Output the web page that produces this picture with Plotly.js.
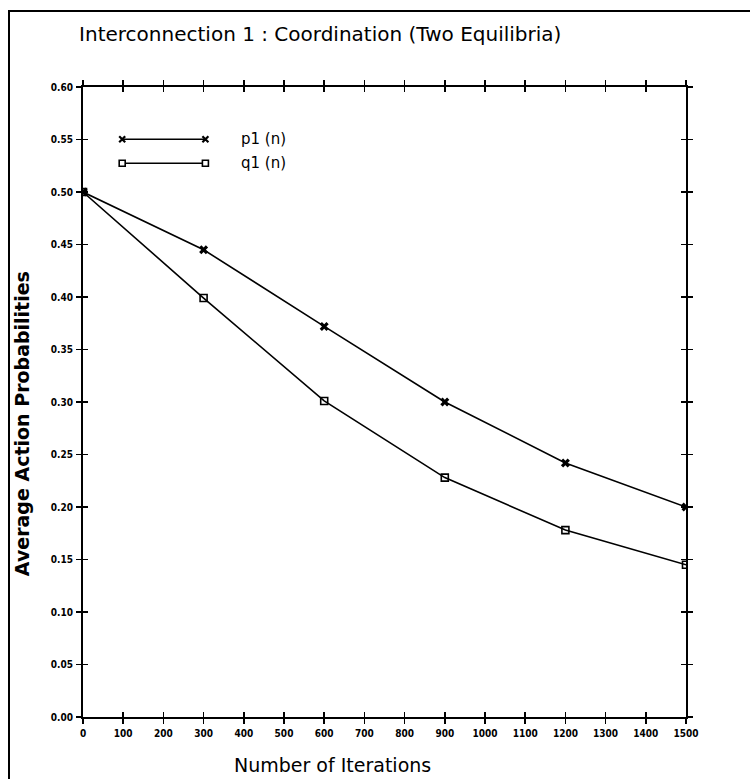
<!DOCTYPE html>
<html>
<head>
<meta charset="utf-8">
<script src="https://cdn.plot.ly/plotly-3.0.1.min.js"></script>
<style>
  html, body { margin: 0; padding: 0; background: #fff; overflow: hidden; }
  #wrap { position: relative; width: 750px; height: 779px; overflow: hidden; }
  #frameL { position: absolute; left: 8px; top: 10px; width: 2px; height: 769px; background: #000; pointer-events: none; }
  #frameT { position: absolute; left: 8px; top: 10px; width: 742px; height: 2px; background: #000; pointer-events: none; }
  #chart { width: 750px; height: 779px; }
</style>
</head>
<body>
<div id="wrap">
  <div id="chart"></div>
  <div id="frameL"></div>
  <div id="frameT"></div>
</div>
<script>
// ---- data ----
const iterations = [0, 300, 600, 900, 1200, 1500];
const p1 = [0.50, 0.445, 0.372, 0.300, 0.242, 0.200];
const q1 = [0.50, 0.399, 0.301, 0.228, 0.178, 0.145];
const seriesNames = ['p1 (n)', 'q1 (n)'];
const xTickVals = [0,100,200,300,400,500,600,700,800,900,1000,1100,1200,1300,1400,1500];
const yTickVals = [0,0.05,0.10,0.15,0.20,0.25,0.30,0.35,0.40,0.45,0.50,0.55,0.60];

const labelFont = {family: 'DejaVu Sans Condensed, DejaVu Sans', size: 10, color: '#000', weight: 'bold'};

const traces = [
  {x: iterations, y: p1, name: seriesNames[0], mode: 'lines+markers', type: 'scatter',
   line: {color: '#000', width: 1.6}, marker: {symbol: 'x', size: 8, color: '#000'}, showlegend: false},
  {x: iterations, y: q1, name: seriesNames[1], mode: 'lines+markers', type: 'scatter',
   line: {color: '#000', width: 1.6}, marker: {symbol: 'square-open', size: 7, color: '#000', line: {width: 1.6}}, showlegend: false},
  // invisible trace to activate the overlay axes that carry the inner half of each tick
  {x: iterations, y: q1, xaxis: 'x2', yaxis: 'y2', mode: 'lines', line: {width: 0}, opacity: 0,
   hoverinfo: 'skip', showlegend: false}
];

// legend drawn as layout decoration
const lx0 = 0.065, lx1 = 0.203, ly1 = 0.917, ly2 = 0.879, ltx = 0.258;
function xMark(xp, yp) {
  return {type: 'path', xref: 'paper', yref: 'paper', xsizemode: 'pixel', ysizemode: 'pixel',
    xanchor: xp, yanchor: yp, path: 'M-3,-3L3,3M-3,3L3,-3', line: {color: '#000', width: 2.2}};
}
function sqMark(xp, yp) {
  return {type: 'rect', xref: 'paper', yref: 'paper', xsizemode: 'pixel', ysizemode: 'pixel',
    xanchor: xp, yanchor: yp, x0: -3, x1: 3, y0: -3, y1: 3, line: {color: '#000', width: 1.6}, fillcolor: '#fff'};
}
const shapes = [
  {type: 'line', xref: 'paper', yref: 'paper', x0: lx0, x1: lx1, y0: ly1, y1: ly1, line: {color: '#000', width: 1.6}},
  {type: 'line', xref: 'paper', yref: 'paper', x0: lx0, x1: lx1, y0: ly2, y1: ly2, line: {color: '#000', width: 1.6}},
  xMark(lx0, ly1), xMark(lx1, ly1), sqMark(lx0, ly2), sqMark(lx1, ly2)
];

const layout = {
  width: 750, height: 779,
  margin: {l: 83, r: 64, t: 87, b: 62},
  paper_bgcolor: '#fff', plot_bgcolor: '#fff',
  showlegend: false,
  title: {text: 'Interconnection 1 : Coordination (Two Equilibria)', font: {family: 'DejaVu Sans', size: 20, color: '#000'},
          x: 0.427, xanchor: 'center', xref: 'container', y: 0.956, yanchor: 'middle', yref: 'container'},
  xaxis: {range: [0, 1500], tickvals: xTickVals, ticktext: xTickVals.map(String), showgrid: false, zeroline: false,
          showline: true, linecolor: '#000', linewidth: 2, mirror: 'allticks', ticks: 'outside', ticklen: 5,
          tickwidth: 1.5, tickcolor: '#000', tickfont: labelFont, ticklabelstandoff: 1},
  yaxis: {range: [0, 0.6], tickvals: yTickVals, tickformat: '.2f', showgrid: false, zeroline: false,
          showline: true, linecolor: '#000', linewidth: 2, mirror: 'allticks', ticks: 'outside', ticklen: 5,
          tickwidth: 1.5, tickcolor: '#000', tickfont: labelFont, ticklabelstandoff: 1},
  xaxis2: {overlaying: 'x', matches: 'x', anchor: 'y2', tickvals: xTickVals, showticklabels: false, showgrid: false,
           zeroline: false, showline: false, mirror: 'allticks', ticks: 'inside', ticklen: 5, tickwidth: 1.5, tickcolor: '#000'},
  yaxis2: {overlaying: 'y', matches: 'y', anchor: 'x2', tickvals: yTickVals, showticklabels: false, showgrid: false,
           zeroline: false, showline: false, mirror: 'allticks', ticks: 'inside', ticklen: 5, tickwidth: 1.5, tickcolor: '#000'},
  shapes: shapes,
  annotations: [
    {text: seriesNames[0], xref: 'paper', yref: 'paper', x: ltx, y: ly1, xanchor: 'left', yanchor: 'middle', showarrow: false, font: {family: 'DejaVu Sans', size: 15, color: '#000'}},
    {text: seriesNames[1], xref: 'paper', yref: 'paper', x: ltx, y: ly2, xanchor: 'left', yanchor: 'middle', showarrow: false, font: {family: 'DejaVu Sans', size: 15, color: '#000'}},
    {text: 'Average Action Probabilities', xref: 'paper', yref: 'paper', x: -0.101, y: 0.465, textangle: -90,
     xanchor: 'center', yanchor: 'middle', showarrow: false, font: {family: 'DejaVu Sans', size: 19, color: '#000', weight: 'bold'}},
    {text: 'Number of Iterations', xref: 'paper', yref: 'paper', x: 0.413, y: -0.076, xanchor: 'center', yanchor: 'middle',
     showarrow: false, font: {family: 'DejaVu Sans', size: 19, color: '#000'}}
  ]
};

Plotly.newPlot('chart', traces, layout, {displayModeBar: false, staticPlot: true});
</script>
</body>
</html>
